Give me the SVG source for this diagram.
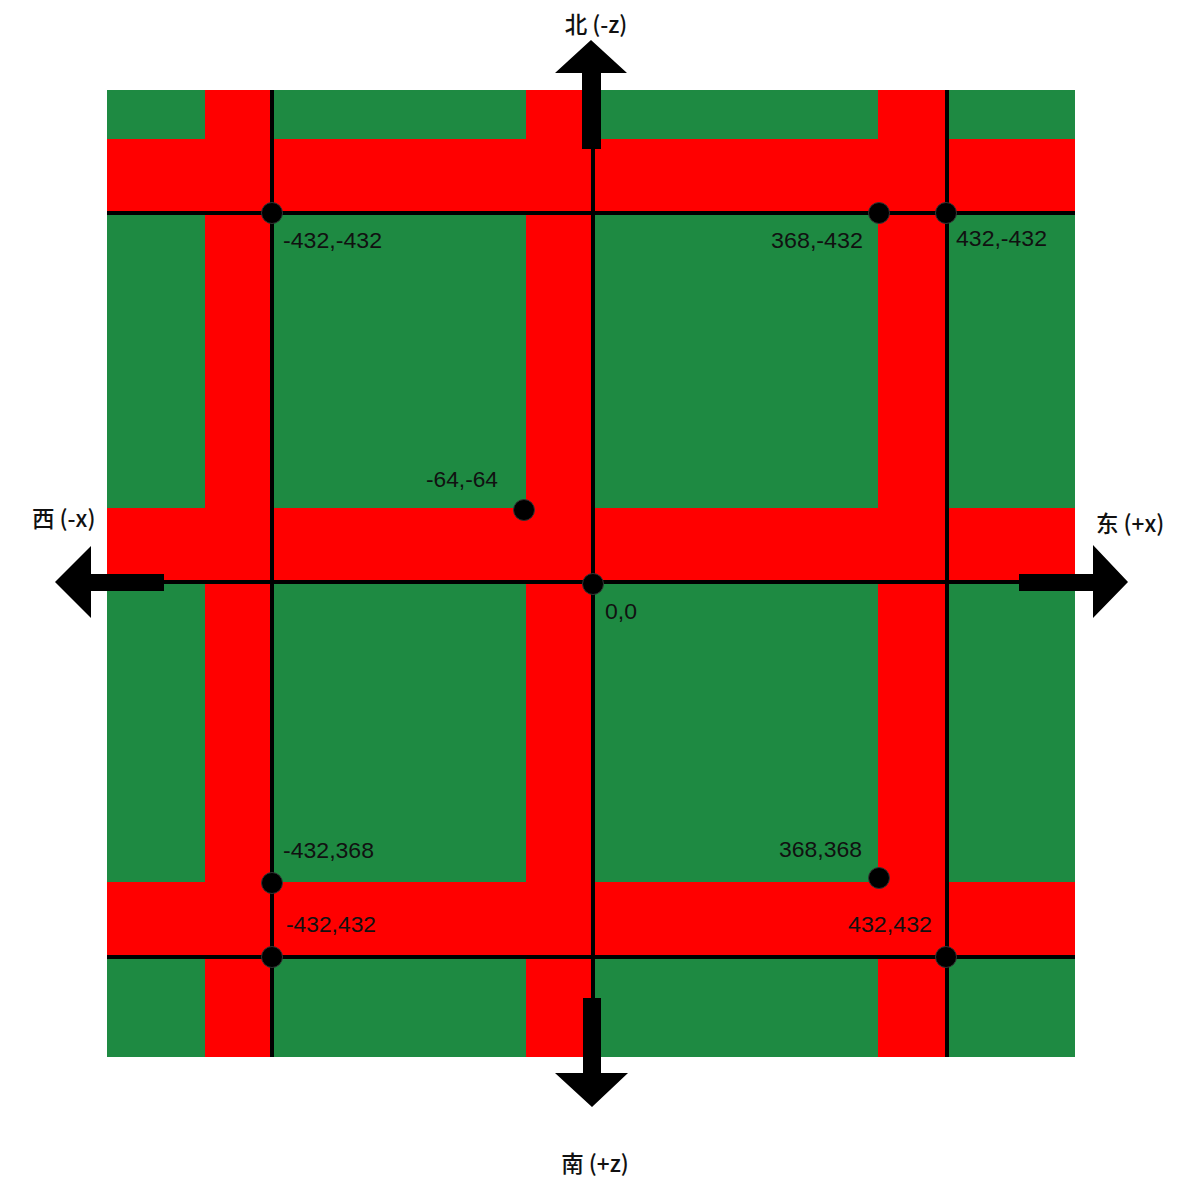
<svg xmlns="http://www.w3.org/2000/svg" width="1192" height="1192" viewBox="0 0 1192 1192">
<style>
.bg{fill:#ffffff}
.green{fill:#1e8a42}
.red{fill:#ff0000}
.grid{stroke:#000;stroke-width:4;fill:none}
.dot{fill:#000;stroke:#333;stroke-width:1}
.lbl{font-family:"Liberation Sans",Arial,sans-serif;font-size:22px;fill:#111}
.dir{font-family:"Noto Sans CJK SC","Noto Sans",sans-serif;font-size:22.5px;font-weight:500;fill:#111}
.arrow{fill:#000}
</style>
<rect class="bg" x="0" y="0" width="1192" height="1192"/>
<g id="map">
<rect class="green" x="107" y="90" width="968" height="967"/>
<rect class="red" x="205" y="90" width="67" height="967"/>
<rect class="red" x="526" y="90" width="67" height="967"/>
<rect class="red" x="878" y="90" width="69" height="967"/>
<rect class="red" x="107" y="139" width="968" height="74"/>
<rect class="red" x="107" y="508" width="968" height="74"/>
<rect class="red" x="107" y="882" width="968" height="75"/>
</g>
<g id="connectors">
<line class="grid" x1="272" y1="90" x2="272" y2="1057"/>
<line class="grid" x1="593" y1="90" x2="593" y2="1057"/>
<line class="grid" x1="947" y1="90" x2="947" y2="1057"/>
<line class="grid" x1="107" y1="213" x2="1075" y2="213"/>
<line class="grid" x1="107" y1="582" x2="1075" y2="582"/>
<line class="grid" x1="107" y1="957" x2="1075" y2="957"/>
<polygon id="arrow-north" class="arrow" points="582,149 601,149 601,73 627,73 591,40 555,73 582,73"/>
<polygon id="arrow-south" class="arrow" points="583,998 601,998 601,1073 628,1073 592,1107 555,1073 583,1073"/>
<polygon id="arrow-west" class="arrow" points="164,574 164,591 91,591 91,618 55,582 91,546 91,574"/>
<polygon id="arrow-east" class="arrow" points="1019,574 1019,591 1093,591 1093,618 1128,582 1093,545 1093,574"/>
</g>
<g id="p-432-432"><circle class="dot" cx="272" cy="213" r="10.5"/><text class="lbl" x="283" y="248" textLength="99" lengthAdjust="spacingAndGlyphs">-432,-432</text></g>
<g id="p368-432"><circle class="dot" cx="879" cy="213" r="10.5"/><text class="lbl" x="771" y="248" textLength="92" lengthAdjust="spacingAndGlyphs">368,-432</text></g>
<g id="p432-432"><circle class="dot" cx="946" cy="213" r="10.5"/><text class="lbl" x="956" y="246" textLength="91" lengthAdjust="spacingAndGlyphs">432,-432</text></g>
<g id="p-64-64"><circle class="dot" cx="524" cy="510" r="10.5"/><text class="lbl" x="426" y="487" textLength="72" lengthAdjust="spacingAndGlyphs">-64,-64</text></g>
<g id="p00"><circle class="dot" cx="593" cy="584" r="10.5"/><text class="lbl" x="605" y="619" textLength="32" lengthAdjust="spacingAndGlyphs">0,0</text></g>
<g id="p-432368"><circle class="dot" cx="272" cy="883" r="10.5"/><text class="lbl" x="283" y="858" textLength="91" lengthAdjust="spacingAndGlyphs">-432,368</text></g>
<g id="p-432432"><circle class="dot" cx="272" cy="957" r="10.5"/><text class="lbl" x="286" y="932" textLength="90" lengthAdjust="spacingAndGlyphs">-432,432</text></g>
<g id="p368368"><circle class="dot" cx="879" cy="878" r="10.5"/><text class="lbl" x="779" y="857" textLength="83" lengthAdjust="spacingAndGlyphs">368,368</text></g>
<g id="p432432"><circle class="dot" cx="946" cy="957" r="10.5"/><text class="lbl" x="848" y="932" textLength="84" lengthAdjust="spacingAndGlyphs">432,432</text></g>
<g id="label-north"><text class="dir" x="596" y="33" text-anchor="middle">北 (-z)</text></g>
<g id="label-west"><text class="dir" x="32" y="527">西 (-x)</text></g>
<g id="label-east"><text class="dir" x="1096" y="532">东 (+x)</text></g>
<g id="label-south"><text class="dir" x="595" y="1172" text-anchor="middle">南 (+z)</text></g>
</svg>
